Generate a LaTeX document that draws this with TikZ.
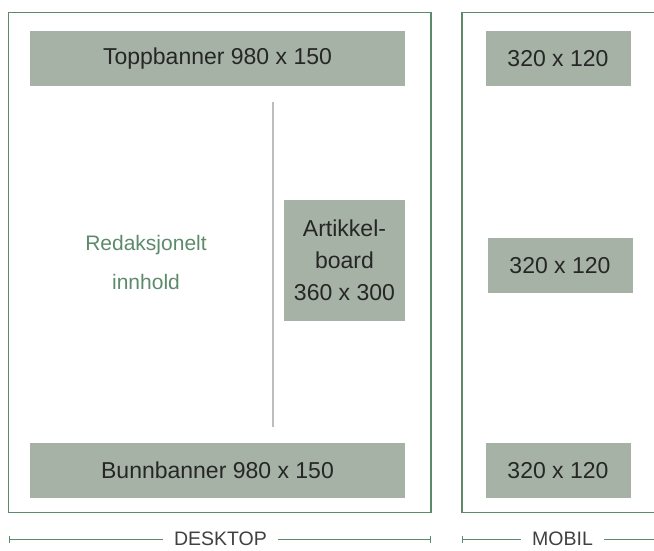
\documentclass[tikz,border=0pt]{standalone}
\usepackage{fontspec}
\setmainfont{Liberation Sans}
\usetikzlibrary{arrows.meta}
\usetikzlibrary{positioning}

\definecolor{boxfill}{HTML}{A6B2A5}
\definecolor{framegreen}{HTML}{5E8A6C}
\definecolor{textdark}{HTML}{262626}
\definecolor{labelgrey}{HTML}{404040}
\definecolor{rulegrey}{HTML}{BDBDBD}

\tikzset{
  adbox/.style = {rectangle, fill = boxfill, text = textdark, inner sep = 0pt, align = center, font = \fontsize{23}{32}\selectfont},
  frame/.style = {draw = framegreen, line width = 1.2pt},
  sizelabel/.style = {text = labelgrey, inner xsep = 11pt, inner ysep = 0pt, font = \fontsize{19.5}{22}\selectfont},
  sizeline/.style = {draw = framegreen, line width = 1pt}
}

\begin{document}
\begin{tikzpicture}[x = 1pt, y = -1pt]
\useasboundingbox (0,0) rectangle (654,551);
% outer frames
\draw[frame] (8.5,12.5) rectangle (431,512.5);
\draw[frame] (654,12.5) -- (462,12.5) -- (462,512.5) -- (654,512.5);
% desktop
\draw (217.5,58.5) node[adbox, name = top, minimum width = 375pt, minimum height = 55pt]{Toppbanner 980 x 150};
\draw (217.5,470.5) node[adbox, name = bottom, minimum width = 375pt, minimum height = 55pt]{Bunnbanner 980 x 150};
\draw (344.5,260.5) node[adbox, name = board, minimum width = 121pt, minimum height = 121pt]{Artikkel-\\board\\360 x 300};
\draw (146,262.5) node[name = content, text = framegreen, align = center, font = \fontsize{21}{39}\selectfont]{Redaksjonelt\\innhold};
\coordinate (divtop) at (273,102);
\coordinate (divbot) at (273,427);
\draw[rulegrey, line width = 2pt] (divtop) -- (divbot);
% mobile
\draw (558,58.5) node[adbox, name = m1, minimum width = 145pt, minimum height = 55pt]{320 x 120};
\draw (560,265.5) node[adbox, name = m2, minimum width = 145pt, minimum height = 55pt]{320 x 120};
\draw (558,470.5) node[adbox, name = m3, minimum width = 145pt, minimum height = 55pt]{320 x 120};
% labels below
\draw (220.5,539) node[sizelabel, name = desk]{DESKTOP};
\coordinate (deskl) at (8.5,539);
\coordinate (deskr) at (431,539);
\draw[sizeline, {Bar[width = 7pt]}-] (deskl) -- (desk.west);
\draw[sizeline, -{Bar[width = 7pt]}] (desk.east) -- (deskr);
\draw (562.5,539) node[sizelabel, name = mob]{MOBIL};
\coordinate (mobl) at (462,539);
\coordinate (mobr) at (654,539);
\draw[sizeline, {Bar[width = 7pt]}-] (mobl) -- (mob.west);
\draw[sizeline] (mob.east) -- (mobr);
\end{tikzpicture}
\end{document}
